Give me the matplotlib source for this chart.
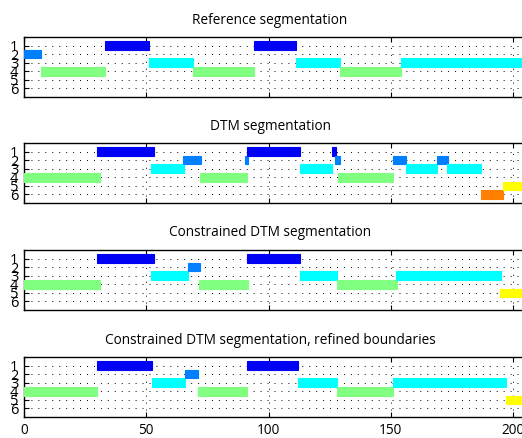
#!/usr/bin/env python3
#
import matplotlib
matplotlib.use('Agg')
import matplotlib.pyplot as plt
import numpy as np

plt.rcParams.update({
  'font.family': ['Open Sans', 'DejaVu Sans'],
  'font.size': 9,
  'lines.scale_dashes': False,
})

# segment start / end frames and class label for each segmentation
REF_START = [0, 7, 33, 51, 69, 94, 111, 129, 154]
REF_END = [7, 33, 51, 69, 94, 111, 129, 154, 206]
REF_CLASS = [2, 4, 1, 3, 4, 1, 3, 4, 3]

DTM_START = [0, 30, 52, 65, 72, 90.5, 91, 113, 126, 127, 128.5, 151, 156, 169, 173, 187, 196]
DTM_END = [31, 53, 65.5, 72.5, 91, 91.5, 113, 126, 127.5, 129, 151, 156, 169, 173.5, 187, 196, 206]
DTM_CLASS = [4, 1, 3, 2, 4, 2, 1, 3, 1, 2, 4, 2, 3, 2, 3, 6, 5]

CDTM_START = [0, 30, 52, 67, 71.5, 91, 113, 128, 152, 194.5]
CDTM_END = [31, 53, 67, 72, 91.5, 113, 128, 152.5, 195, 206]
CDTM_CLASS = [4, 1, 3, 2, 4, 1, 3, 4, 3, 5]

REFINED_START = [0, 30, 52.5, 66, 71, 91, 112, 128, 151, 197]
REFINED_END = [30, 52.5, 66, 71, 91, 112, 128, 151, 197, 206]
REFINED_CLASS = [4, 1, 3, 2, 4, 1, 3, 4, 3, 5]

TITLES = [
  'Reference segmentation',
  'DTM segmentation',
  'Constrained DTM segmentation',
  'Constrained DTM segmentation, refined boundaries',
]

CLASS_COLORS = {
  1: '#0000f5',
  2: '#0080ff',
  3: '#00ffff',
  4: '#80ff80',
  5: '#ffff00',
  6: '#ff8000',
}

W, H = 522, 438
LEFT, XSCALE = 24, 2.446
XMAX = 206
TOPS = [37, 143, 250, 357]
AX_H = 60


def draw_segments(ax, start, end, cls, title):
  start = np.asarray(start, dtype=float)
  end = np.asarray(end, dtype=float)
  colors = [CLASS_COLORS[c] for c in cls]
  ax.barh(cls, end - start, left=start, height=1.0, color=colors,
          edgecolor=colors, linewidth=0.8, zorder=3)
  ax.set_xlim(0, XMAX)
  ax.set_ylim(7, 0)
  ax.set_yticks(range(1, 7))
  ax.set_xticks([0, 50, 100, 150, 200])
  ax.grid(True, color='black', linestyle=(0, (0.7, 4.3)), linewidth=0.7)
  ax.tick_params(direction='in', top=True, right=True, length=3.5,
                 width=0.8)
  ax.tick_params(axis='y', pad=4, labelsize=10.5)
  ax.tick_params(axis='x', pad=4, labelsize=9.8)
  for sp in ax.spines.values():
    sp.set_linewidth(1.0)
  ax.text((270 - LEFT) / (XMAX * XSCALE), 1 + 17 / AX_H, title,
          transform=ax.transAxes, ha='center', va='center', fontsize=9.8)


def main():
  fig = plt.figure(figsize=(W / 100, H / 100), dpi=100)
  panels = [
    (REF_START, REF_END, REF_CLASS),
    (DTM_START, DTM_END, DTM_CLASS),
    (CDTM_START, CDTM_END, CDTM_CLASS),
    (REFINED_START, REFINED_END, REFINED_CLASS),
  ]
  for i, (start, end, cls) in enumerate(panels):
    top = TOPS[i]
    ax = fig.add_axes([LEFT / W, 1 - (top + AX_H) / H,
                       XMAX * XSCALE / W, AX_H / H])
    draw_segments(ax, start, end, cls, TITLES[i])
    if i < len(panels) - 1:
      ax.set_xticklabels([])
  fig.savefig('out.png', dpi=100)
  plt.close(fig)


if __name__ == '__main__':
  main()
